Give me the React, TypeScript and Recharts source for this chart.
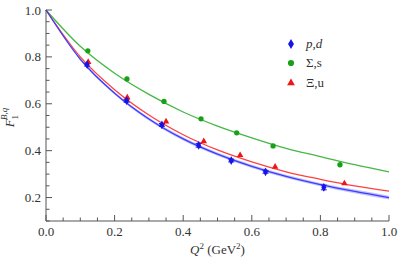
import { ComposedChart, Line, Area, Scatter, XAxis, YAxis, Label, ErrorBar, Symbols } from "recharts";

// curve samples
const curveQ2 = [0, 0.1, 0.2, 0.3, 0.4, 0.5, 0.6, 0.7, 0.8, 0.9, 1.0];
const pdCurve = [1.0, 0.79, 0.645, 0.535, 0.45, 0.385, 0.333, 0.29, 0.255, 0.226, 0.2];
const pdBand = [0, 0.003, 0.005, 0.006, 0.007, 0.007, 0.007, 0.007, 0.007, 0.008, 0.008];
const sigmaCurve = [1.0, 0.845, 0.73, 0.64, 0.565, 0.505, 0.455, 0.41, 0.375, 0.34, 0.31];
const xiCurve = [1.0, 0.8, 0.66, 0.552, 0.468, 0.403, 0.352, 0.31, 0.278, 0.25, 0.227];

// lattice points
const pdQ2 = [0.12, 0.235, 0.338, 0.445, 0.54, 0.64, 0.81];
const pdF = [0.767, 0.613, 0.51, 0.423, 0.358, 0.31, 0.243];
const pdErr = [0.006, 0.006, 0.006, 0.008, 0.006, 0.006, 0.01];
const sigmaQ2 = [0.122, 0.236, 0.344, 0.452, 0.556, 0.662, 0.857];
const sigmaF = [0.826, 0.706, 0.61, 0.536, 0.476, 0.42, 0.34];
const xiQ2 = [0.123, 0.237, 0.35, 0.46, 0.566, 0.668, 0.87];
const xiF = [0.778, 0.627, 0.524, 0.44, 0.381, 0.331, 0.26];

const xTicks = [0, 0.05, 0.1, 0.15, 0.2, 0.25, 0.3, 0.35, 0.4, 0.45, 0.5, 0.55, 0.6, 0.65, 0.7, 0.75, 0.8, 0.85, 0.9, 0.95, 1.0];
const yTicks = [0.1, 0.15, 0.2, 0.25, 0.3, 0.35, 0.4, 0.45, 0.5, 0.55, 0.6, 0.65, 0.7, 0.75, 0.8, 0.85, 0.9, 0.95, 1.0];

const legendItems = [
  { name: "p,d", italic: true, shape: "diamond", color: "#1414e6", size: 22 },
  { name: "Σ,s", italic: false, shape: "circle", color: "#18a018", size: 22 },
  { name: "Ξ,u", italic: false, shape: "triangle", color: "#f01414", size: 18 },
];

const curveData = curveQ2.map((q, i) => ({
  q,
  pd: pdCurve[i],
  pdRange: [pdCurve[i] - pdBand[i], pdCurve[i] + pdBand[i]],
  sigma: sigmaCurve[i],
  xi: xiCurve[i],
}));
const pdPoints = pdQ2.map((q, i) => ({ q, f: pdF[i], e: pdErr[i] }));
const sigmaPoints = sigmaQ2.map((q, i) => ({ q, f: sigmaF[i] }));
const xiPoints = xiQ2.map((q, i) => ({ q, f: xiF[i] }));

const font = "Liberation Serif";
const frame = "#555";
const isMajor = (v: number) => Math.abs(v * 5 - Math.round(v * 5)) < 1e-6;

const marker = (type: string, size: number, color: string) => (p: any) =>
  <Symbols cx={p.cx} cy={p.cy} type={type as any} size={size} fill={color} />;

const BottomTick = (p: any) => {
  const major = isMajor(p.payload.value);
  return (
    <g>
      <line x1={p.x} x2={p.x} y1={p.y} y2={p.y - (major ? 6 : 3.5)} stroke={frame} />
      {major && (
        <text x={p.x} y={p.y + 15} textAnchor="middle" fontSize={13} fontFamily={font} fill="#333">
          {p.payload.value.toFixed(1)}
        </text>
      )}
    </g>
  );
};
const TopTick = (p: any) => {
  const major = isMajor(p.payload.value);
  return <line x1={p.x} x2={p.x} y1={p.y} y2={p.y + (major ? 6 : 3.5)} stroke={frame} />;
};
const LeftTick = (p: any) => {
  const v = p.payload.value;
  const major = isMajor(v) && v > 0.15;
  return (
    <g>
      <line x1={p.x} x2={p.x + (major ? 6 : 3.5)} y1={p.y} y2={p.y} stroke={frame} />
      {major && (
        <text x={p.x - 5} y={p.y + 4.5} textAnchor="end" fontSize={13} fontFamily={font} fill="#333">
          {v.toFixed(1)}
        </text>
      )}
    </g>
  );
};
const RightTick = (p: any) => {
  const v = p.payload.value;
  const major = isMajor(v) && v > 0.15;
  return <line x1={p.x} x2={p.x - (major ? 6 : 3.5)} y1={p.y} y2={p.y} stroke={frame} />;
};

export default function App() {
  return (
    <div style={{ position: "absolute", left: 0, top: 0, width: 399, height: 264, background: "#fff", fontFamily: '"Liberation Serif"' }}>
      <ComposedChart width={399} height={264} data={curveData} margin={{ top: 10, right: 10, bottom: 0, left: 0 }}>
        <XAxis
          xAxisId="b"
          dataKey="q"
          type="number"
          domain={[0, 1]}
          ticks={xTicks}
          interval={0}
          tickSize={0}
          tickMargin={0}
          tickLine={false}
          tick={BottomTick}
          stroke={frame}
          height={43}
        >
          <Label
            content={(props: any) => {
              const vb = props.viewBox;
              return (
                <text x={vb.x + vb.width / 2} y={vb.y + 33} textAnchor="middle" fontSize={13} fontFamily={font} fill="#333">
                  <tspan fontStyle="italic">Q</tspan>
                  <tspan dy={-5} fontSize={9}>2</tspan>
                  <tspan dy={5}> (GeV</tspan>
                  <tspan dy={-5} fontSize={9}>2</tspan>
                  <tspan dy={5}>)</tspan>
                </text>
              );
            }}
          />
        </XAxis>
        <XAxis
          xAxisId="t"
          orientation="top"
          type="number"
          dataKey="q"
          domain={[0, 1]}
          ticks={xTicks}
          interval={0}
          tickSize={0}
          tickMargin={0}
          tickLine={false}
          tick={TopTick}
          stroke={frame}
          height={0}
        />
        <YAxis
          yAxisId="l"
          type="number"
          domain={[0.1, 1]}
          ticks={yTicks}
          interval={0}
          tickSize={0}
          tickMargin={0}
          tickLine={false}
          tick={LeftTick}
          stroke={frame}
          width={46}
        >
          <Label
            content={(props: any) => {
              const vb = props.viewBox;
              const cx = 14;
              const cy = vb.y + vb.height / 2 + 2;
              return (
                <text x={cx} y={cy} transform={`rotate(-90, ${cx}, ${cy})`} textAnchor="middle" fontSize={13} fontFamily={font} fill="#333">
                  <tspan fontStyle="italic">F</tspan>
                  <tspan dy={4} fontSize={9}>1</tspan>
                  <tspan dx={-5} dy={-11} fontSize={9} fontStyle="italic">B,q</tspan>
                </text>
              );
            }}
          />
        </YAxis>
        <YAxis
          yAxisId="r"
          orientation="right"
          type="number"
          domain={[0.1, 1]}
          ticks={yTicks}
          interval={0}
          tickSize={0}
          tickMargin={0}
          tickLine={false}
          tick={RightTick}
          stroke={frame}
          width={0}
        />
        <Area xAxisId="b" yAxisId="l" dataKey="pdRange" type="monotone" stroke="none" fill="#9a9aff" fillOpacity={0.6} isAnimationActive={false} />
        <Line xAxisId="b" yAxisId="l" dataKey="sigma" type="monotone" stroke="#44b844" strokeWidth={1.3} dot={false} isAnimationActive={false} />
        <Line xAxisId="b" yAxisId="l" dataKey="xi" type="monotone" stroke="#ff4040" strokeWidth={1.3} dot={false} isAnimationActive={false} />
        <Line xAxisId="b" yAxisId="l" dataKey="pd" type="monotone" stroke="#3c3cff" strokeWidth={1.3} dot={false} isAnimationActive={false} />
        <Scatter xAxisId="b" yAxisId="l" data={sigmaPoints} dataKey="f" shape={marker("circle", 22, "#18a018")} isAnimationActive={false} />
        <Scatter xAxisId="b" yAxisId="l" data={xiPoints} dataKey="f" shape={marker("triangle", 18, "#f01414")} isAnimationActive={false} />
        <Scatter xAxisId="b" yAxisId="l" data={pdPoints} dataKey="f" shape={marker("diamond", 22, "#1414e6")} isAnimationActive={false}>
          <ErrorBar dataKey="e" direction="y" width={3} stroke="#1414e6" strokeWidth={1} />
        </Scatter>
      </ComposedChart>
      {/* Legend */}
      <div style={{ position: "absolute", left: 284, top: 34, fontSize: 13, color: "#333" }}>
        {legendItems.map((it) => (
          <div key={it.name} style={{ display: "flex", alignItems: "center", height: 19.5 }}>
            <svg width={14} height={14} style={{ marginRight: 8 }}>
              <Symbols cx={7} cy={7} type={it.shape as any} size={it.size + 8} fill={it.color} />
            </svg>
            <span style={{ fontStyle: it.italic ? "italic" : "normal" }}>{it.name}</span>
          </div>
        ))}
      </div>
    </div>
  );
}
